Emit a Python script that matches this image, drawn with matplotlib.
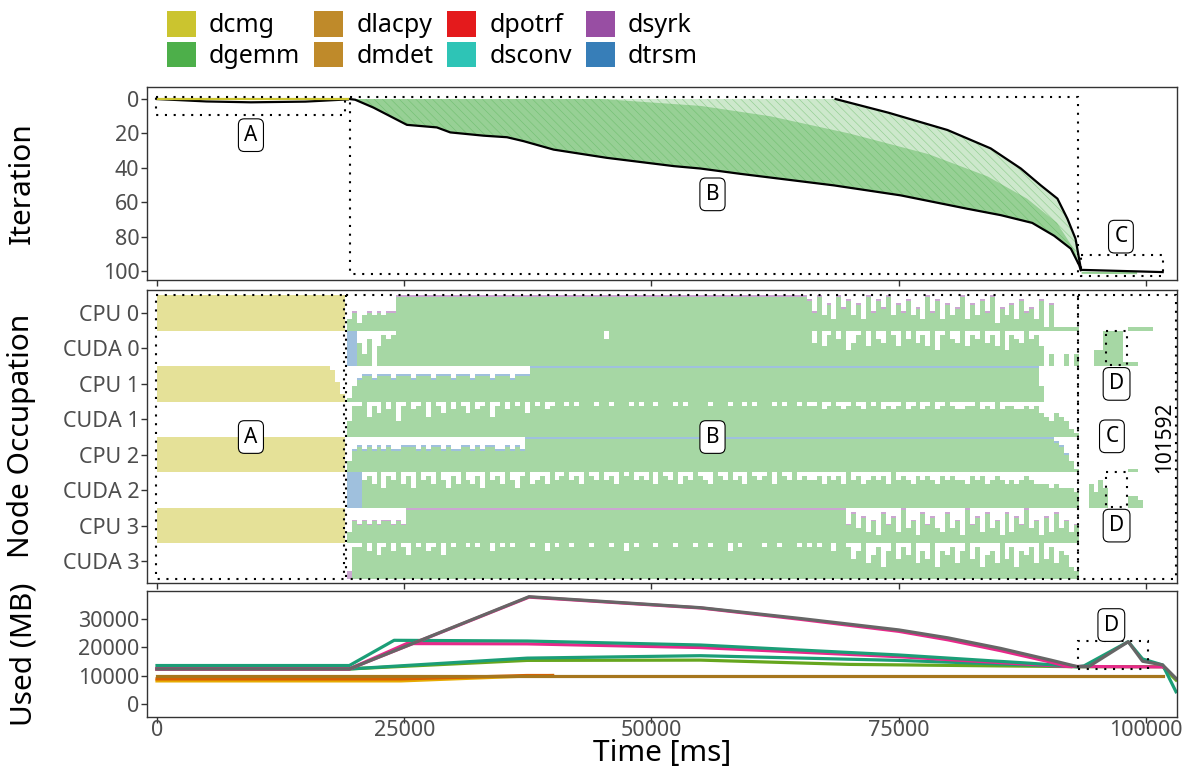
import matplotlib
matplotlib.use("Agg")
import matplotlib.pyplot as plt
from matplotlib.patches import Patch, Rectangle
import numpy as np

plt.rcParams['font.family'] = ['Noto Sans', 'DejaVu Sans']
plt.rcParams['hatch.linewidth'] = 0.4

# legend kernels
kernels = ["dcmg", "dgemm", "dlacpy", "dmdet", "dpotrf", "dsconv", "dsyrk", "dtrsm"]
kernel_colors = ["#CBC42F", "#4DAF4A", "#BF8A2A", "#BF8A2A", "#E41A1C", "#2EC4B6", "#984EA3", "#377EB8"]

# ---- top panel: iteration vs time (black envelopes) ----
lower_t = [19500, 20040, 21900, 25270, 28300, 29660, 33030, 35390, 37080, 40110, 45510, 52260,
           54960, 59010, 68450, 75200, 81950, 85320, 88500, 90720, 92410, 93250, 93420]
lower_it = [0, 0.4, 5, 15, 16.5, 19.4, 21.3, 22.2, 24.5, 29.4, 34.2, 39,
            40.4, 43.5, 50.2, 56, 63.8, 67.5, 72, 79.5, 87, 96.6, 99.5]
upper_t = [68620, 74000, 79930, 84300, 87350, 89370, 91050, 92060, 92880, 93420]
upper_it = [0, 8, 18, 28.7, 40.4, 50.2, 57.9, 69.6, 81.2, 98.7]
dense_t = [19500, 45000, 55000, 62000, 70000, 78000, 84000, 88000, 91000, 92800, 93420]
dense_it = [0, 0, 4, 10, 20, 32, 45, 58, 72, 88, 99.5]
a_t = [0, 5000, 9500, 15000, 19300]
a_it = [0, 1.4, 1.9, 1.5, 0.2]
c_t = [93420, 101690]
c_it = [99.3, 100.6]

# ---- middle panel: node occupation, 500 ms bins, digit d -> d/9 ----
rows = ["CPU 0", "CUDA 0", "CPU 1", "CUDA 1", "CPU 2", "CUDA 2", "CPU 3", "CUDA 3"]
bin_ms = 500
a_start = 0
b_start = 19200
c_start = 93200

occ_a = {
    0: "9" * 38,
    2: "9" * 35 + "852",
    4: "9" * 38,
    6: "9" * 38,
}
occ_b = {
    0: "3524545455" + "9" * 83 + "8594739684" "7395869475" "8463958374" "6937485926" "47385" + "6381711111",
    1: "9963705878" + "9" * 42 + "7" + "9" * 40 + "9695897946" "8959769859" "7968594897" "6958796859" "48769" + "7850300303",
    2: "146" + "7767776777" "6777677767" "7767776777" "6777" + "9" * 103 + "4" + "0000000",
    3: "48" + "8958697948" "9789598697" "9869789589" "7989698978"
         + "9989899989" "9899989899" "8999898999" "9899989989" "899989899898"
         + "8978987898" "7989787897" "8978978987" "7889787978" "877878" + "65465421",
    4: "36" + "7676767667" "7767677676" "6776767766" "7676" + "9" * 106 + "987531",
    5: "999" + "7869587968" "5978697586" "9768597869" "7589678697"
         + "8978698797" "8698978796" "9879687987" "6987978698" "78969879787"
         + "7868786978" "6787869787" "6878768787" "7687867876" "767876" + "66565554",
    6: "365656566565" + "9" * 88 + "9584736285" "7394628574" "3846295738" "4628375946" "27384635",
    7: "28" + "8979689798" "6989789698" "9989899798" "9899989979" "8998999899"
         + "9899798999" "8999899989" "9899979899" "9989989998" "989899799"
         + "8579468379" "5869475937" "6847958367" "4958376849" "5847632",
}
occ_c = {
    0: "00000000001111100",
    1: "00044999911100000",
    4: "00000000001100000",
    5: "00647500003320000",
}
# bins drawn in dtrsm / dsyrk colour (row, first bin, count)
trsm_bins = [(5, 0, 3), (1, 0, 2)]
syrk_bins = [(7, 0, 1)]
tint_rows = {0: "#CBA7D1", 6: "#CBA7D1", 2: "#9FC0DD", 4: "#9FC0DD"}

# ---- bottom panel: memory used (MB) ----
grey_t = [0, 19450, 37620, 54960, 65080, 75000, 80000, 85320, 90380, 93080, 94200, 98210, 99660, 101690, 103040]
grey_mb = [12300, 12300, 37650, 33800, 30000, 26000, 23200, 19500, 15400, 13100, 13100, 21860, 15000, 13700, 9000]
pink_t = [0, 19450, 37620, 54960, 65080, 75000, 80000, 85320, 90380, 92000, 101690]
pink_mb = [12300, 12300, 37500, 33700, 29700, 25500, 22500, 18700, 14700, 13200, 13000]
pink2_t = [0, 19450, 25250, 37400, 54960, 75000, 88300, 92400]
pink2_mb = [12300, 12300, 21200, 21100, 19800, 16600, 13900, 13100]
teal_t = [0, 19450, 23975, 37430, 54960, 75000, 88300, 93080, 93750, 98210, 99660, 101690, 103040]
teal_mb = [13500, 13500, 22350, 22100, 20700, 17200, 14300, 13100, 13400, 21860, 15800, 13700, 4300]
teal2_t = [0, 19450, 37430, 54960, 75000, 93080]
teal2_mb = [12300, 12300, 16100, 16950, 15300, 13100]
green_t = [0, 19450, 37430, 54960, 70000, 93080, 101690, 103040]
green_mb = [12300, 12300, 15300, 15400, 13900, 13100, 13100, 8400]
brown_t = [0, 101690]
brown_mb = [10000, 10000]
orange_t = [0, 24670, 37400, 40000]
orange_mb = [8800, 8800, 10000, 10000]
yellow_t = [0, 24670, 37400, 40000]
yellow_mb = [8100, 8100, 9800, 10000]

GREEN_L = "#A6D7A4"
YELLOW_L = "#E5E198"
BLUE_L = "#9FC0DD"
PURPLE_L = "#CBA7D1"
FRAME = "#333333"

fig = plt.figure(figsize=(11.92, 7.72), dpi=100)
W, H = 1192, 772
def box(l, t, r, b):
    return [l / W, 1 - b / H, (r - l) / W, (b - t) / H]

ax1 = fig.add_axes(box(147, 87, 1177, 280))
ax2 = fig.add_axes(box(147, 290, 1177, 583), sharex=ax1)
ax3 = fig.add_axes(box(147, 591, 1177, 717), sharex=ax1)

dot = (0, (1, 3.2))
def dotted_rect(ax, x0, y0, x1, y1):
    ax.add_patch(Rectangle((x0, y0), x1 - x0, y1 - y0, fill=False, ec="black",
                           lw=1.5, ls=dot, zorder=6))

def tag(ax, x, y, s):
    ax.text(x, y, s, ha="center", va="center", fontsize=15, zorder=8,
            bbox=dict(boxstyle="round,pad=0.28", fc="white", ec="black", lw=0.8))

# top panel
poly_t = lower_t + upper_t[::-1] + [19500]
poly_it = lower_it + upper_it[::-1] + [0]
ax1.fill(poly_t, poly_it, color="#4DAF4A", alpha=0.28, lw=0)
ax1.fill(poly_t, poly_it, fc="none", ec="#4DAF4A", hatch="\\\\\\\\", lw=0, alpha=0.5)
dpoly_t = lower_t + dense_t[::-1]
dpoly_it = lower_it + dense_it[::-1]
ax1.fill(dpoly_t, dpoly_it, color="#4DAF4A", alpha=0.42, lw=0)
ax1.plot(lower_t, lower_it, color="black", lw=1.6, zorder=4)
ax1.plot(upper_t, upper_it, color="black", lw=1.6, zorder=4)
ax1.plot(a_t, a_it, color="black", lw=1.6, zorder=4)
ax1.plot([0, 19300], [0, 0], color="#CBC42F", lw=1.6, zorder=5)
ax1.plot(c_t, c_it, color="black", lw=1.6, zorder=4)
ax1.plot([93600, 99000], [101, 101.2], color="#4DAF4A", lw=1.5, alpha=0.6)
dotted_rect(ax1, -100, -1, 19000, 9.3)
dotted_rect(ax1, 19500, -1.2, 93080, 101.5)
dotted_rect(ax1, 93420, 90.8, 101690, 102.8)
tag(ax1, 9500, 21, "A")
tag(ax1, 56170, 55.4, "B")
tag(ax1, 97470, 80, "C")
ax1.set_ylim(105.2, -7)
ax1.set_yticks([0, 20, 40, 60, 80, 100])

# middle panel
def draw_occ(ax, row, start, digits, color):
    occ = np.array([int(c) for c in digits]) / 9
    x = start + bin_ms * np.arange(len(occ))
    ax.bar(x, -occ, width=bin_ms, bottom=row + 0.5, align="edge", color=color,
           linewidth=0, antialiased=False, zorder=2)
    return x, occ

for r, s in occ_a.items():
    draw_occ(ax2, r, a_start, s, YELLOW_L)
for r, s in occ_b.items():
    x, occ = draw_occ(ax2, r, b_start, s, GREEN_L)
    if r in tint_rows:
        m = occ >= 0.5
        ax2.bar(x[m], -0.05, width=bin_ms, bottom=r + 0.5 - occ[m] + 0.05, align="edge",
                color=tint_rows[r], linewidth=0, antialiased=False, zorder=3)
for r, i0, n in trsm_bins:
    draw_occ(ax2, r, b_start + i0 * bin_ms, occ_b[r][i0:i0 + n], BLUE_L)
for r, i0, n in syrk_bins:
    draw_occ(ax2, r, b_start + i0 * bin_ms, occ_b[r][i0:i0 + n], PURPLE_L)
for r, s in occ_c.items():
    draw_occ(ax2, r, c_start, s, GREEN_L)

dotted_rect(ax2, -100, -0.5, 18950, 7.5)
dotted_rect(ax2, 19150, -0.5, 93100, 7.5)
dotted_rect(ax2, 93150, -0.5, 103000, 7.5)
dotted_rect(ax2, 95950, 0.5, 98070, 1.47)
dotted_rect(ax2, 95950, 4.5, 98070, 5.47)
tag(ax2, 9500, 3.5, "A")
tag(ax2, 56170, 3.5, "B")
tag(ax2, 96560, 3.48, "C")
tag(ax2, 97030, 2.0, "D")
tag(ax2, 97030, 6.0, "D")
ax2.text(101850, 3.5, "101592", rotation=90, ha="center", va="center", fontsize=15, zorder=8)
ax2.set_ylim(7.62, -0.65)
ax2.set_yticks(range(len(rows)))
ax2.set_yticklabels(rows)

# bottom panel
dark2 = {"yellow": "#E6AB02", "orange": "#D95F02", "brown": "#A6761D", "green": "#66A61E",
         "teal": "#1B9E77", "pink": "#E7298A", "grey": "#666666"}
mlw = 2.3
ax3.plot(yellow_t, yellow_mb, color=dark2["yellow"], lw=mlw)
ax3.plot(orange_t, orange_mb, color=dark2["orange"], lw=mlw)
ax3.plot(brown_t, brown_mb, color=dark2["brown"], lw=mlw)
ax3.plot(green_t, green_mb, color=dark2["green"], lw=mlw)
ax3.plot(teal2_t, teal2_mb, color=dark2["teal"], lw=mlw)
ax3.plot(pink2_t, pink2_mb, color=dark2["pink"], lw=mlw)
ax3.plot(teal_t, teal_mb, color=dark2["teal"], lw=mlw)
ax3.plot(pink_t, pink_mb, color=dark2["pink"], lw=mlw)
ax3.plot(grey_t, grey_mb, color=dark2["grey"], lw=mlw)
dotted_rect(ax3, 93080, 12300, 100160, 22100)
tag(ax3, 96500, 27700, "D")
ax3.set_ylim(-4560, 39650)
ax3.set_yticks([0, 10000, 20000, 30000])
ax3.set_xlim(-1010, 103140)
ax3.set_xticks([0, 25000, 50000, 75000, 100000])

for ax in (ax1, ax2, ax3):
    for sp in ax.spines.values():
        sp.set_color(FRAME)
        sp.set_linewidth(1.0)
    ax.tick_params(direction="out", length=4.5, width=1.0, color=FRAME,
                   labelcolor="#4D4D4D", labelsize=15.5, pad=1)
for ax in (ax1, ax2):
    ax.tick_params(labelbottom=False)
ax3.tick_params(axis="x", pad=-2.5)
ax3.set_xlabel("Time [ms]", fontsize=21.5, labelpad=-1)

fig.text(22 / W, 1 - 183 / H, "Iteration", rotation=90, ha="center", va="center", fontsize=21.5)
fig.text(22 / W, 1 - 436 / H, "Node Occupation", rotation=90, ha="center", va="center", fontsize=21.5)
fig.text(24 / W, 1 - 654 / H, "Used (MB)", rotation=90, ha="center", va="center", fontsize=21.5)

handles = [Patch(facecolor=c, edgecolor="none") for c in kernel_colors]
fig.legend(handles, kernels, loc="upper left", bbox_to_anchor=(167 / W, 1 - 11 / H), ncol=4,
           frameon=False, fontsize=18, handlelength=1.16, handleheight=1.2,
           handletextpad=0.52, columnspacing=0.56, labelspacing=0.14, borderaxespad=0,
           borderpad=0)

fig.savefig("out.png", dpi=100)
